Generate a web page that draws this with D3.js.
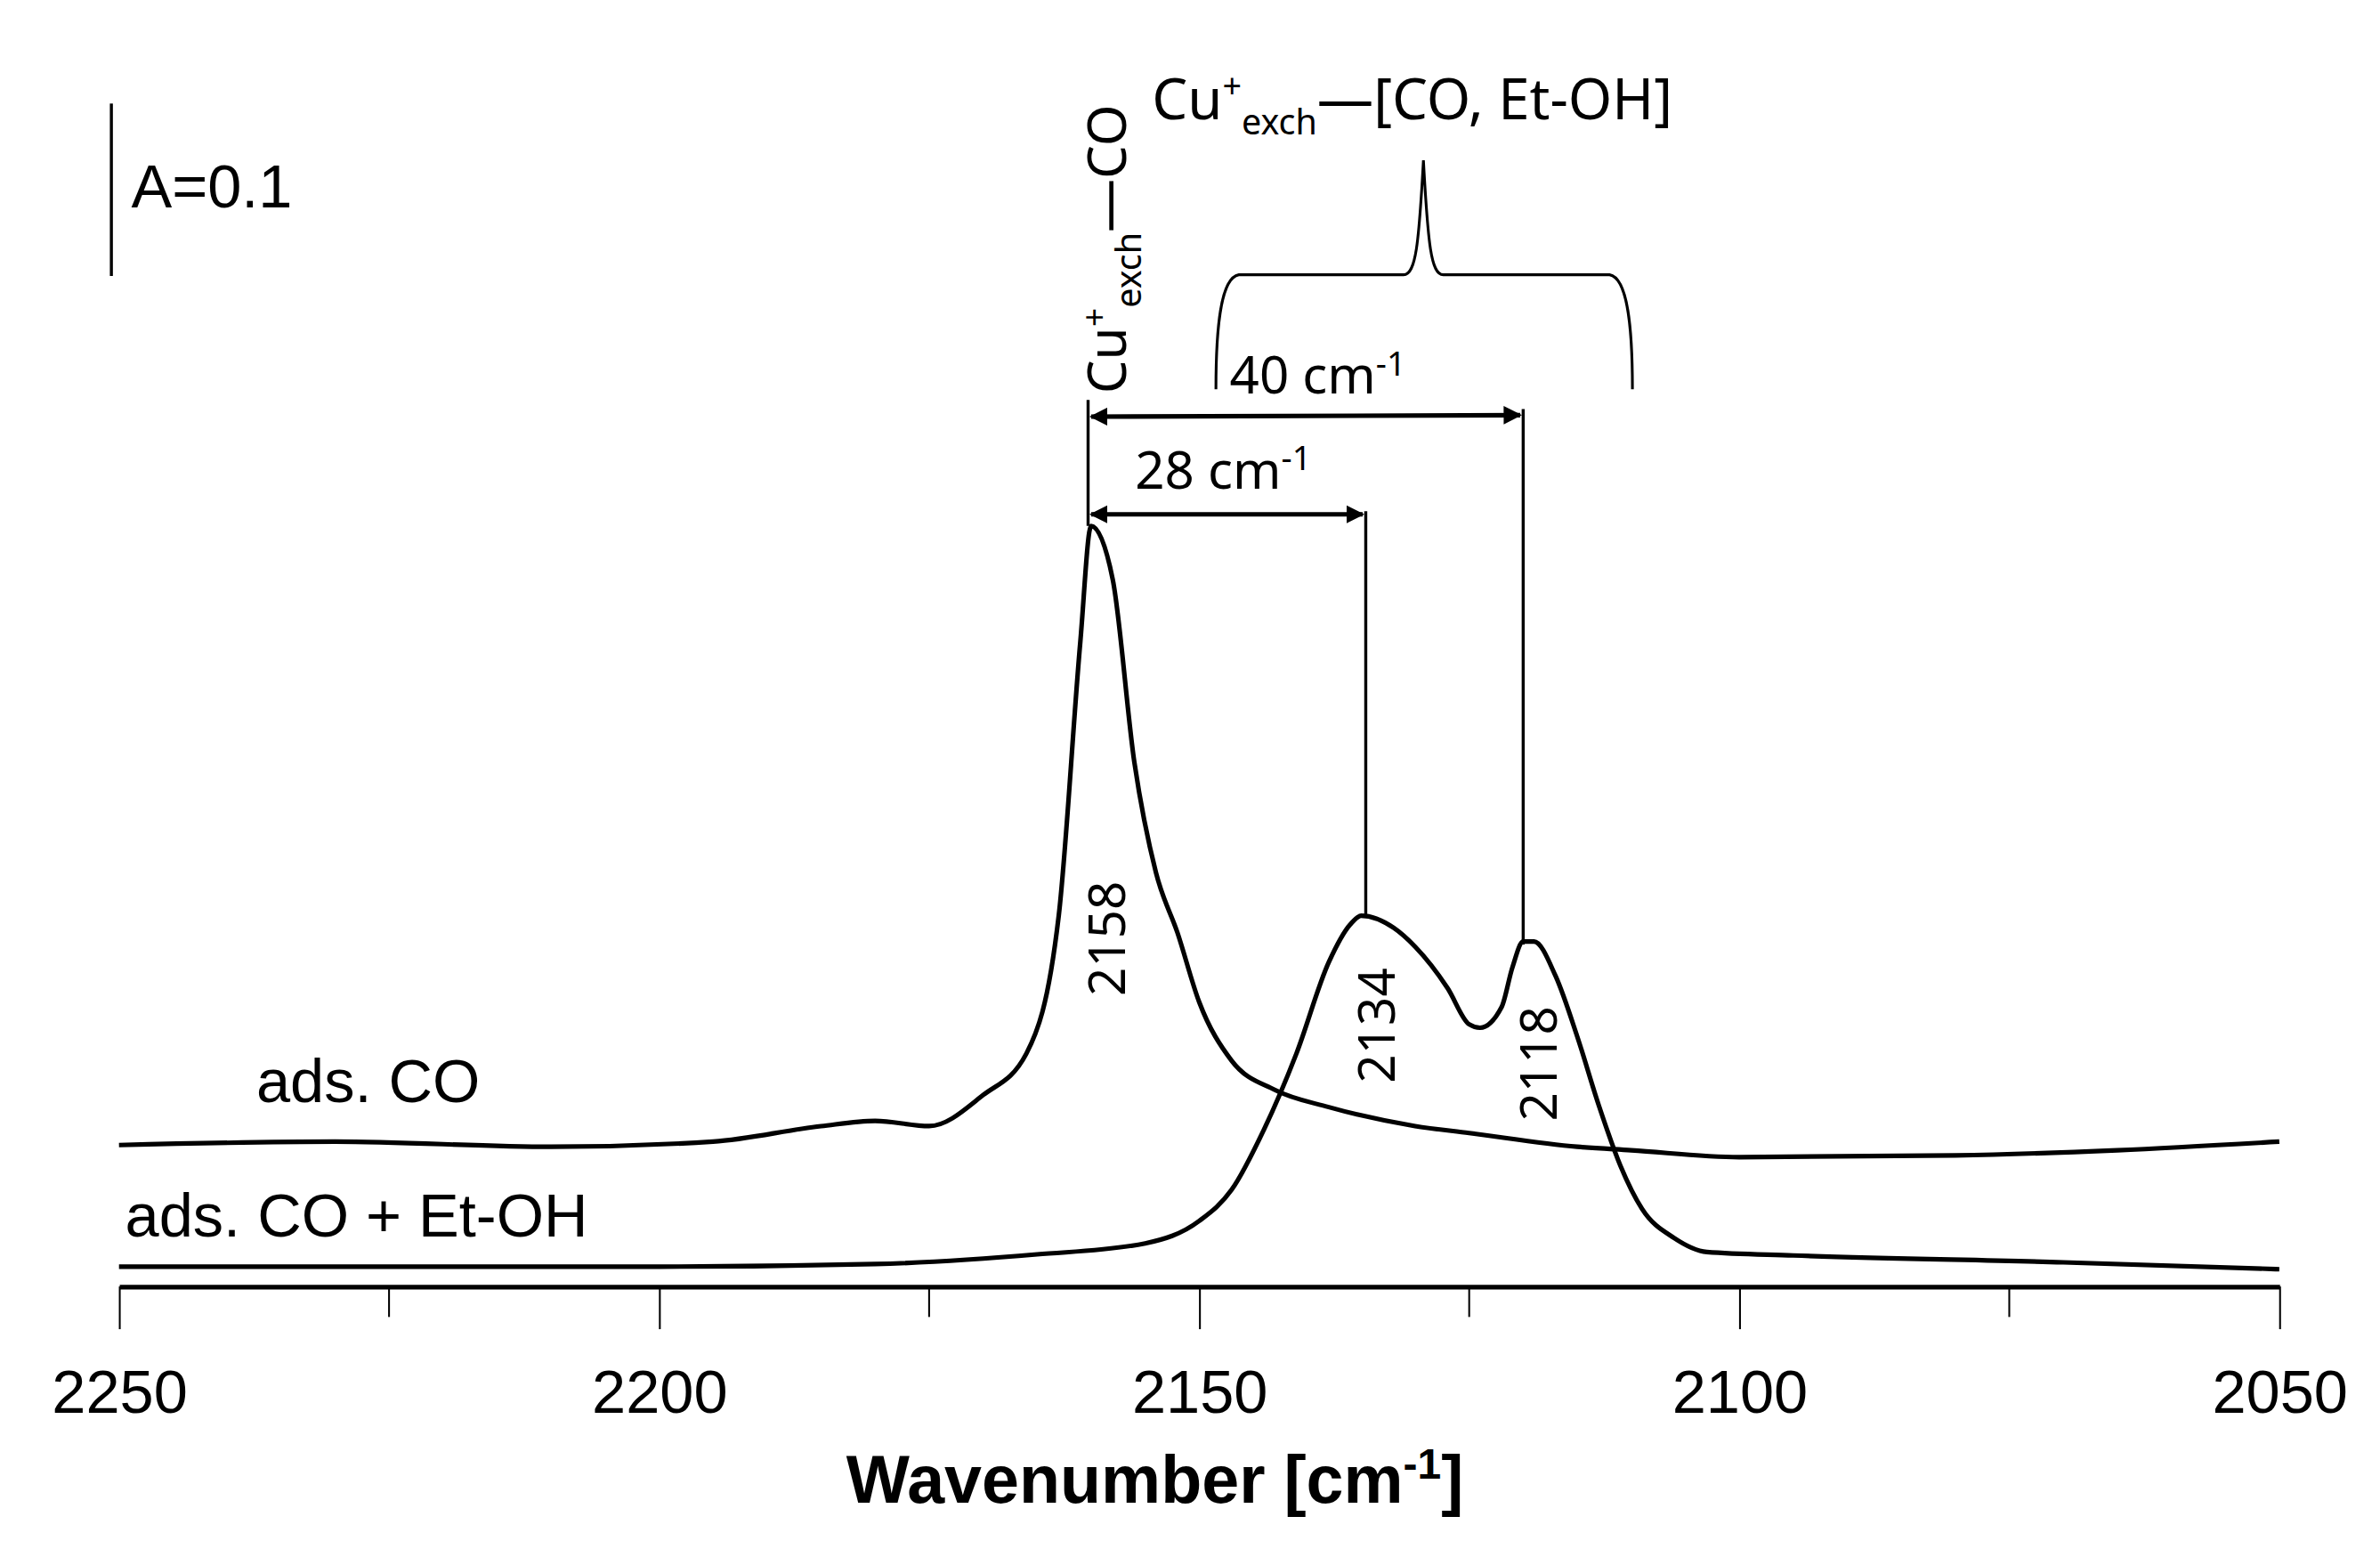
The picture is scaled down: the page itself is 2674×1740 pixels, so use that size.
<!DOCTYPE html>
<html>
<head>
<meta charset="utf-8">
<script src="https://cdn.jsdelivr.net/npm/d3@7"></script>
<style>
body { margin: 0; background: #fff; }
</style>
</head>
<body>
<div id="chart-area"></div>
<script>
// spectra: wavenumber (cm-1) and absorbance
var wnCO = [2250, 2230, 2210, 2195, 2185, 2180, 2175, 2170, 2166, 2163, 2161, 2160, 2158, 2156, 2154, 2152, 2150, 2147, 2143, 2138, 2130, 2125, 2115, 2110, 2100, 2080, 2065, 2050];
var absCO = [0.082, 0.084, 0.081, 0.084, 0.093, 0.096, 0.093, 0.111, 0.135, 0.215, 0.374, 0.441, 0.41, 0.304, 0.24, 0.205, 0.165, 0.131, 0.114, 0.104, 0.093, 0.089, 0.081, 0.079, 0.075, 0.076, 0.079, 0.084];
var wnEt = [2250, 2200, 2180, 2165, 2155, 2150, 2147, 2144, 2141, 2138, 2136, 2135, 2132, 2130, 2127, 2125, 2124, 2122, 2121, 2120, 2119, 2117, 2115, 2113, 2111, 2109, 2106, 2103, 2095, 2070, 2050];
var absEt = [0.0115, 0.0115, 0.013, 0.0186, 0.025, 0.038, 0.056, 0.091, 0.135, 0.188, 0.21, 0.215, 0.208, 0.197, 0.173, 0.152, 0.15, 0.162, 0.185, 0.2, 0.2, 0.18, 0.145, 0.105, 0.07, 0.045, 0.028, 0.02, 0.018, 0.014, 0.01];
var xTicks = [2250, 2200, 2150, 2100, 2050];
var minorTicks = [2225, 2175, 2125, 2075];
var peaks = [{wn: 2160, label: "2158", a: 0.441}, {wn: 2135, label: "2134", a: 0.215}, {wn: 2120, label: "2118", a: 0.2}];

var W = 1560, H = 1015;
var svg = d3.select("#chart-area").append("svg")
    .attr("width", 2674).attr("height", 1740)
    .attr("viewBox", "0 0 " + W + " " + H);

var x = d3.scaleLinear().domain([2250, 2050]).range([78, 1494]);
var y = d3.scaleLinear().domain([0, 0.746]).range([843, 0]);

var line = d3.line().x((d) => x(d[0])).y((d) => y(d[1])).curve(d3.curveMonotoneX);

svg.append("path").datum(d3.zip(wnCO, absCO)).attr("d", line)
    .attr("fill", "none").attr("stroke", "#000").attr("stroke-width", 3);
svg.append("path").datum(d3.zip(wnEt, absEt)).attr("d", line)
    .attr("fill", "none").attr("stroke", "#000").attr("stroke-width", 3);

// x axis
var axis = svg.append("g").attr("transform", "translate(0,843)");
axis.call(d3.axisBottom(x).tickValues(xTicks).tickSize(28).tickSizeOuter(0).tickFormat(d3.format("d")));
axis.select(".domain").attr("stroke-width", 3);
axis.selectAll(".tick line").attr("stroke-width", 1.2);
axis.selectAll(".tick text").attr("font-family", "Liberation Sans, Arial").attr("font-size", 40).attr("dy", "1.3em").attr("fill", "#000");
axis.selectAll(".minor").data(minorTicks).enter().append("line")
    .attr("x1", (d) => x(d)).attr("x2", (d) => x(d)).attr("y1", 0).attr("y2", 20)
    .attr("stroke", "#000").attr("stroke-width", 1.2);

var title = svg.append("text").attr("x", 757).attr("y", 985).attr("text-anchor", "middle")
    .attr("font-family", "Liberation Sans, Arial").attr("font-weight", "bold").attr("font-size", 44);
title.append("tspan").text("Wavenumber [cm");
title.append("tspan").attr("dy", -16).attr("font-size", 28).text("-1");
title.append("tspan").attr("dy", 16).text("]");

// scale bar
svg.append("line").attr("x1", 73).attr("x2", 73).attr("y1", y(0.686)).attr("y2", y(0.586))
    .attr("stroke", "#000").attr("stroke-width", 2);
svg.append("text").attr("x", 86).attr("y", 136).text("A=0.1")
    .attr("font-family", "Liberation Sans, Arial").attr("font-size", 40);

var lab = "Liberation Sans, Arial";
svg.append("text").attr("x", 168).attr("y", 722).text("ads. CO").attr("font-family", lab).attr("font-size", 40);
svg.append("text").attr("x", 82).attr("y", 810).text("ads. CO + Et-OH").attr("font-family", lab).attr("font-size", 40);

var cal = "Noto Sans, Open Sans, sans-serif";
// peak labels
var py = [615, 672, 697];
peaks.forEach((p, i) => {
    svg.append("text").attr("transform", "translate(" + (x(p.wn) + 22) + "," + py[i] + ") rotate(-90)")
        .attr("text-anchor", "middle").attr("font-family", cal).attr("font-size", 33).text(p.label);
});

// drop lines and arrows
var ink = "#000";
svg.append("defs").append("marker").attr("id", "arr").attr("viewBox", "0 0 10 10")
    .attr("refX", 9).attr("refY", 5).attr("markerWidth", 4).attr("markerHeight", 4).attr("orient", "auto-start-reverse")
    .append("path").attr("d", "M0,0L10,5L0,10z").attr("fill", ink);
var x0 = x(peaks[0].wn) - 2;
svg.append("line").attr("x1", x0).attr("x2", x0).attr("y1", 262).attr("y2", y(peaks[0].a)).attr("stroke", ink).attr("stroke-width", 2);
svg.append("line").attr("x1", x(peaks[1].wn) + 3).attr("x2", x(peaks[1].wn) + 3).attr("y1", 335).attr("y2", y(peaks[1].a)).attr("stroke", ink).attr("stroke-width", 2);
svg.append("line").attr("x1", x(peaks[2].wn)).attr("x2", x(peaks[2].wn)).attr("y1", 268).attr("y2", y(peaks[2].a) + 2).attr("stroke", ink).attr("stroke-width", 2);
svg.append("line").attr("x1", x0 + 2).attr("x2", x(peaks[2].wn) - 2).attr("y1", 273).attr("y2", 272)
    .attr("stroke", ink).attr("stroke-width", 3).attr("marker-start", "url(#arr)").attr("marker-end", "url(#arr)");
svg.append("line").attr("x1", x0 + 2).attr("x2", x(peaks[1].wn) + 1).attr("y1", 337).attr("y2", 337)
    .attr("stroke", ink).attr("stroke-width", 3).attr("marker-start", "url(#arr)").attr("marker-end", "url(#arr)");

function cm(t, xx, yy) {
    var el = svg.append("text").attr("x", xx).attr("y", yy).attr("font-family", cal).attr("font-size", 34);
    el.append("tspan").text(t + " cm");
    el.append("tspan").attr("dy", -12).attr("font-size", 22).text("-1");
}
cm("40", 806, 258);
cm("28", 744, 320);

// brace
svg.append("path").attr("d", "M797,255 C797,215 800,182 812,180 L920,180 C928,180 930,160 933,105 C936,160 938,180 946,180 L1055,180 C1067,182 1070,215 1070,255")
    .attr("fill", "none").attr("stroke", ink).attr("stroke-width", 1.8);

// top labels
var t1 = svg.append("text").attr("x", 755).attr("y", 78).attr("font-family", cal).attr("font-size", 37);
t1.append("tspan").text("Cu");
t1.append("tspan").attr("dy", -14).attr("font-size", 22).text("+");
t1.append("tspan").attr("dy", 24).attr("font-size", 23).text("exch");
t1.append("tspan").attr("dy", -10).text("\u2014[CO, Et-OH]");

var t2 = svg.append("text").attr("transform", "translate(738,258) rotate(-90)").attr("font-family", cal).attr("font-size", 35);
t2.append("tspan").text("Cu");
t2.append("tspan").attr("dy", -13).attr("font-size", 22).text("+");
t2.append("tspan").attr("dy", 23).attr("font-size", 23).text("exch");
t2.append("tspan").attr("dy", -10).text("\u2014CO");
</script>
</body>
</html>
